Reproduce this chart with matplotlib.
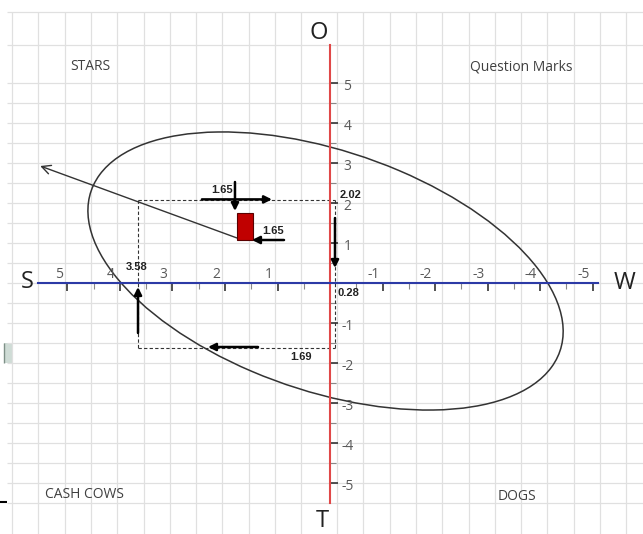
import numpy as np
import matplotlib.pyplot as plt
from matplotlib.patches import Ellipse, Rectangle

# axis ticks (x grows to the left, like the original)
x_ticks = [5, 4, 3, 2, 1, -1, -2, -3, -4, -5]
y_ticks = [5, 4, 3, 2, 1, -1, -2, -3, -4, -5]

# strategy ellipse
ell_center = (0.085, 0.30)
ell_size = (9.86, 5.75)
ell_angle = 29.2

# dashed box (strength / opportunity readings)
box_left = 3.65
box_right = -0.10
box_top = 2.07
box_bottom = -1.63

# red position rectangle
rect_x = 1.467
rect_y = 1.075
rect_w = 0.304
rect_h = 0.675

# direction vector
vec_tail = (1.771, 1.125)
vec_head = (5.52, 2.925)

# small black arrows: (tail, head)
arrows = [
    ((2.44, 2.09), (1.105, 2.09)),
    ((1.81, 2.525), (1.81, 1.80)),
    ((0.876, 1.075), (1.486, 1.075)),
    ((-0.095, 1.625), (-0.095, 0.375)),
    ((3.657, -1.25), (3.657, -0.10)),
    ((1.371, -1.60), (2.324, -1.60)),
]

# value labels
value_labels = ['1.65', '1.65', '2.02', '0.28', '1.69', '3.58']
value_pos = [(2.057, 2.325), (1.08, 1.30), (-0.40, 2.20),
             (-0.36, -0.25), (0.55, -1.85), (3.68, 0.40)]

quad_labels = ['STARS', 'Question Marks', 'CASH COWS', 'DOGS']
quad_pos = [(4.57, 5.40), (-3.64, 5.40), (4.67, -5.30), (-3.56, -5.33)]

axis_letters = ['O', 'T', 'S', 'W']
letter_pos = [(0.21, 6.25), (0.15, -5.95), (5.77, 0.02), (-5.62, 0.0)]


def main():
    fig = plt.figure(figsize=(6.43, 5.34), dpi=100)
    fig.set_facecolor('white')

    # spreadsheet background grid, in pixels
    bg = fig.add_axes([0, 0, 1, 1])
    bg.set_xlim(0, 643)
    bg.set_ylim(534, 0)
    bg.axis('off')
    rows = [12, 45] + list(range(83, 504, 20))
    cols = [12 + 26.3 * k for k in range(12)] + [337 + 26.3 * k for k in range(12)]
    bg.hlines(rows, 7, 643, color='#e0e0e0', lw=0.9)
    bg.vlines(cols, 12, 534, color='#e0e0e0', lw=0.9)
    bg.add_patch(Rectangle((4, 343), 8, 20, fc='#cfdcd6', ec='none'))
    bg.vlines(4, 343, 363, color='#7f9088', lw=1)
    bg.hlines(502, 0, 7, color='black', lw=1.5)

    ax = fig.add_axes([0, 0, 1, 1])
    ax.patch.set_alpha(0)
    ax.set_xlim(330 / 52.5, (330 - 643) / 52.5)
    ax.set_ylim((283 - 534) / 40, 283 / 40)

    for side in ['top', 'right']:
        ax.spines[side].set_visible(False)
    ax.spines['left'].set_position(('data', 0))
    ax.spines['bottom'].set_position(('data', 0))
    ax.spines['left'].set_color('#e04848')
    ax.spines['bottom'].set_color('#2c3aa6')
    ax.spines['left'].set_linewidth(1.5)
    ax.spines['bottom'].set_linewidth(1.5)
    ax.spines['left'].set_bounds(-5.5, 5.95)
    ax.spines['bottom'].set_bounds(-5.1, 5.56)

    ax.set_xticks(x_ticks)
    ax.set_yticks(y_ticks)
    ax.set_xticks(np.arange(-4.5, 5.0, 1.0), minor=True)
    ax.set_yticks(np.arange(-4.5, 5.0, 1.0), minor=True)
    ax.set_xticklabels([])
    ax.set_yticklabels([])
    ax.tick_params(axis='x', which='major', direction='out', length=6, width=1.1, color='#222')
    ax.tick_params(axis='y', which='major', direction='in', length=6, width=1.1, color='#222')
    ax.tick_params(axis='x', which='minor', direction='out', length=4, width=0.8, color='#888')
    ax.tick_params(axis='y', which='minor', direction='in', length=4, width=0.8, color='#888')

    for v in x_ticks:
        ax.text(v + 0.17, 0.2, str(v), ha='center', va='center',
                fontsize=10, color='#595959', family='Open Sans')
    for v in y_ticks:
        ax.text(-0.33, v - 0.1, str(v), ha='center', va='center',
                fontsize=10, color='#595959', family='Open Sans')

    ax.add_patch(Ellipse(ell_center, ell_size[0], ell_size[1], angle=ell_angle,
                         fill=False, ec='#333333', lw=1.1))

    dash = dict(color='#333333', lw=0.8, linestyle=(0, (3, 2)))
    ax.plot([box_left, box_right], [box_top, box_top], **dash)
    ax.plot([box_left, box_right], [box_bottom, box_bottom], **dash)
    ax.plot([box_left, box_left], [box_top, box_bottom], **dash)
    ax.plot([box_right, box_right], [box_top, box_bottom], **dash)

    ax.annotate('', xy=vec_head, xytext=vec_tail,
                arrowprops=dict(arrowstyle='->', color='#333333', lw=1.0,
                                mutation_scale=16, shrinkA=0, shrinkB=0))

    ax.add_patch(Rectangle((rect_x, rect_y), rect_w, rect_h,
                           fc='#c00000', ec='#5a0000', lw=0.8, zorder=3))

    for tail, head in arrows:
        ax.annotate('', xy=head, xytext=tail,
                    arrowprops=dict(arrowstyle='-|>', color='black', lw=1.8,
                                    mutation_scale=11, shrinkA=0, shrinkB=0))

    for lbl, (x, y) in zip(value_labels, value_pos):
        ax.text(x, y, lbl, ha='center', va='center', fontsize=8,
                fontweight='bold', color='#222222', family='Liberation Sans')

    for lbl, (x, y) in zip(quad_labels, quad_pos):
        ax.text(x, y, lbl, ha='center', va='center', fontsize=10,
                color='#404040', family='Open Sans')

    for lbl, (x, y) in zip(axis_letters, letter_pos):
        ax.text(x, y, lbl, ha='center', va='center', fontsize=17,
                color='#222222', family='Open Sans')

    fig.savefig('out.png', dpi=100)


main()
